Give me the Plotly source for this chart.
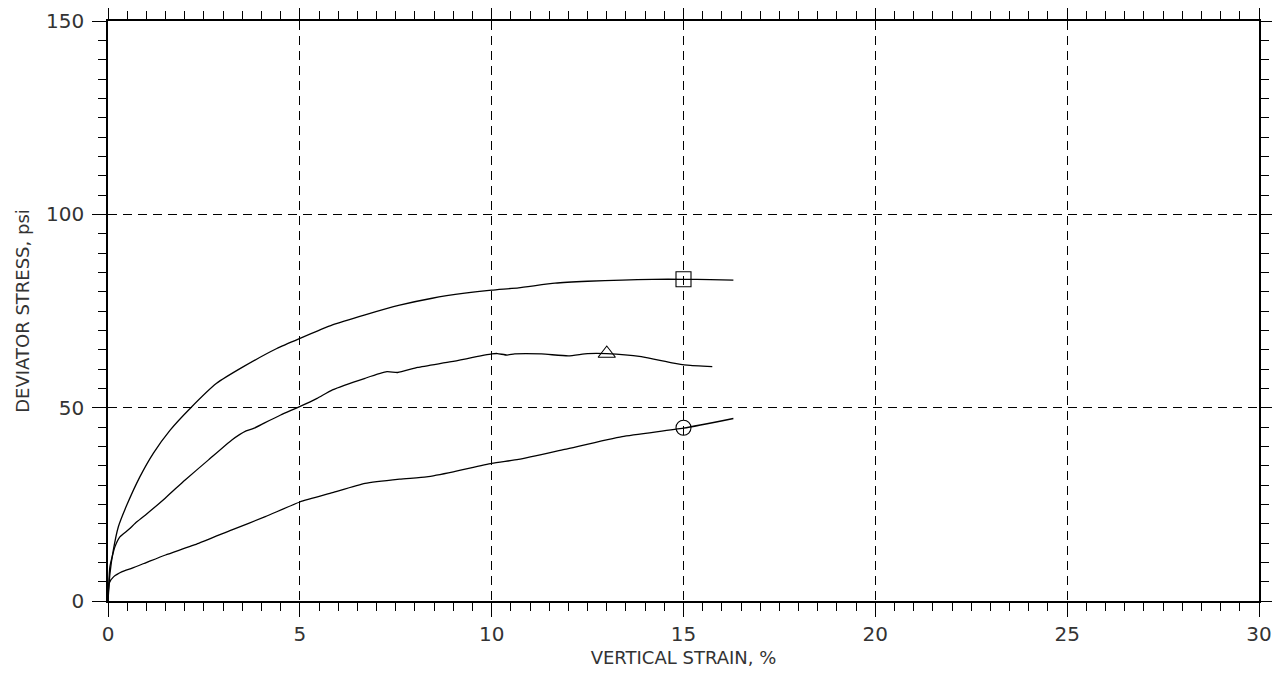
import plotly.graph_objects as go

# Curve with square marker (highest)
strain_sq = [0, 0.05, 0.14, 0.27, 0.49, 0.83, 1.18, 1.62, 2.14, 2.83, 3.53, 4.40, 5.0, 5.85,
             6.7, 7.6, 8.45, 9.3, 10.0, 10.7, 11.65, 12.5, 13.4, 14.2, 15.0, 15.7, 16.3]
stress_sq = [0, 7.0, 13.2, 19.2, 24.8, 32.1, 38.2, 44.2, 49.8, 56.3, 60.6, 65.3, 67.9, 71.4,
             74.0, 76.5, 78.3, 79.6, 80.4, 81.0, 82.2, 82.7, 83.0, 83.2, 83.2, 83.1, 83.0]

# Curve with triangle marker (middle)
strain_tr = [0, 0.05, 0.18, 0.31, 0.53, 0.71, 0.97, 1.49, 2.01, 2.62, 3.22, 3.6, 3.81, 4.07,
             4.5, 4.98, 5.45, 5.85, 6.7, 7.27, 7.55, 8.07, 8.95, 10.0, 10.15, 10.4, 10.6,
             11.3, 12.0, 12.5, 13.0, 13.9, 14.7, 15.1, 15.75]
stress_tr = [0, 8.9, 14.0, 16.6, 18.4, 20.1, 22.2, 26.6, 31.3, 36.5, 41.6, 44.0, 44.7, 46.0,
             48.1, 50.2, 52.4, 54.6, 57.6, 59.3, 59.1, 60.4, 61.9, 63.9, 64.0, 63.6, 63.9,
             63.9, 63.4, 64.0, 64.0, 63.2, 61.6, 61.0, 60.6]

# Curve with circle marker (lowest)
strain_ci = [0, 0.03, 0.15, 0.37, 0.63, 1.06, 1.5, 2.36, 3.23, 4.1, 5.0, 5.85, 6.7, 7.6,
             8.3, 9.0, 10.0, 10.7, 11.9, 13.4, 15.0, 16.3]
stress_ci = [0, 4.6, 6.3, 7.6, 8.5, 10.2, 11.9, 14.9, 18.4, 21.8, 25.6, 28.0, 30.4, 31.5,
             32.1, 33.4, 35.6, 36.6, 39.2, 42.5, 44.7, 47.2]

# Marker positions
marker_sq = (15.0, 83.2)
marker_tr = (13.0, 64.0)
marker_ci = (15.0, 44.8)

x_title = "VERTICAL STRAIN, %"
y_title = "DEVIATOR STRESS, psi"

FONT = "DejaVu Sans"

fig = go.Figure()
line_style = dict(color="black", width=1.3, shape="spline", smoothing=0.5)
for xs, ys in [(strain_sq, stress_sq), (strain_tr, stress_tr), (strain_ci, stress_ci)]:
    fig.add_trace(go.Scatter(x=xs, y=ys, mode="lines", line=line_style,
                             showlegend=False, hoverinfo="skip"))

for (mx, my), sym in [(marker_sq, "square-open"), (marker_tr, "triangle-up-open"),
                      (marker_ci, "circle-open")]:
    fig.add_trace(go.Scatter(x=[mx], y=[my], mode="markers",
                             marker=dict(symbol=sym, size=15, color="black",
                                         line=dict(width=1.1, color="black")),
                             showlegend=False))

axis_common = dict(
    showline=True, linecolor="black", linewidth=1.5, mirror="allticks",
    ticks="outside", ticklen=14, tickwidth=1, tickcolor="black",
    showgrid=True, gridcolor="black", gridwidth=1, griddash="9px,6px",
    zeroline=False, automargin=False,
    tickfont=dict(family=FONT, size=20, color="#333"),
)

fig.update_xaxes(range=[0, 30], dtick=5, tick0=0,
                 minor=dict(dtick=0.5, ticks="outside", ticklen=8, tickcolor="black",
                            showgrid=False),
                 title=dict(text=x_title, font=dict(family=FONT, size=18, color="#333"),
                            standoff=13),
                 **axis_common)
fig.update_yaxes(range=[0, 150], dtick=50, tick0=0, ticklabelstandoff=4,
                 minor=dict(dtick=5, ticks="outside", ticklen=8, tickcolor="black",
                            showgrid=False),
                 title=dict(text=y_title, font=dict(family=FONT, size=18, color="#333"),
                            standoff=12),
                 **axis_common)

# page body has an 8px margin: figure 1264x660 sits at (8, 8)
fig.update_layout(
    width=1264, height=660,
    margin=dict(l=100, r=13, t=13, b=67),
    plot_bgcolor="white", paper_bgcolor="white",
)

fig.write_html("out.html")
